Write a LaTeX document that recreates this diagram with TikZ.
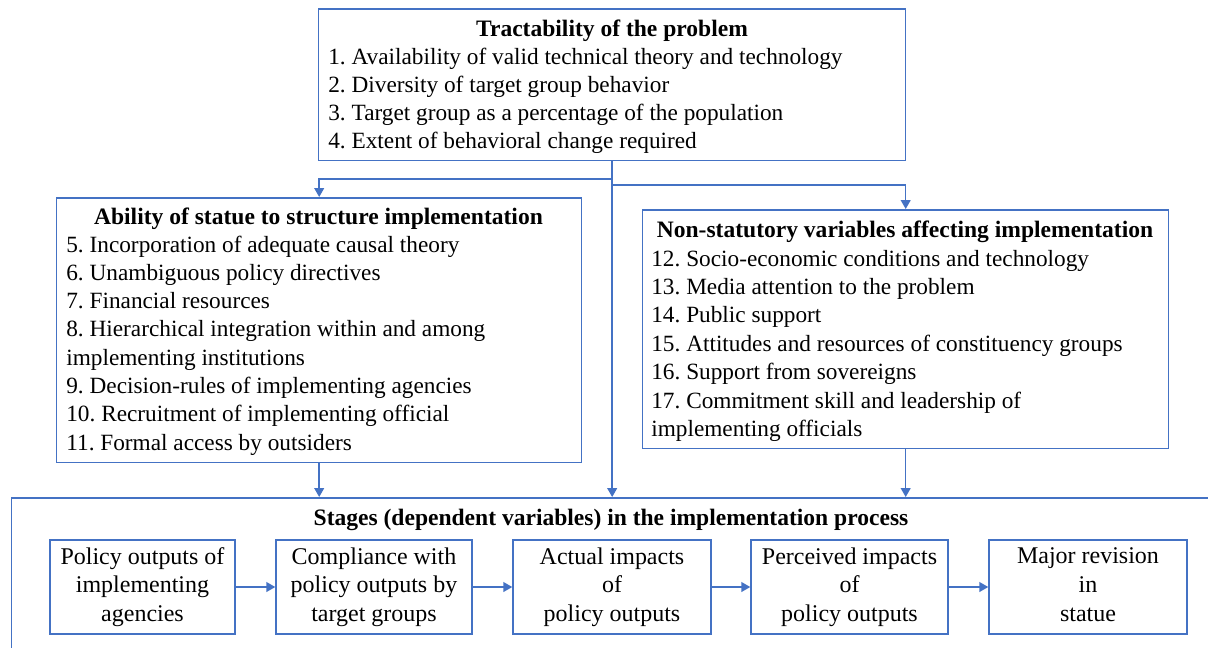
\documentclass[tikz,border=0pt]{standalone}
\usepackage{fontspec}
\setmainfont{Liberation Serif}
\usetikzlibrary{positioning, arrows.meta}
\definecolor{linkblue}{RGB}{68,114,196}
\frenchspacing

\begin{document}
\begin{tikzpicture}[x=0.02cm, y=-0.02cm,
    box/.style={draw=linkblue, line width=0.85pt, inner sep=0pt, anchor=north west},
    head/.style={font=\fontsize{13.4}{16}\selectfont\bfseries, anchor=base, inner sep=0pt},
    item/.style={font=\fontsize{13.25}{16}\selectfont, anchor=base west, inner sep=0pt},
    stage/.style={draw=linkblue, line width=0.85pt, align=center, inner sep=0pt,
        font=\fontsize{13.65}{16.3}\selectfont, minimum height=1.88cm},
    link/.style={draw=linkblue, line width=0.85pt, -{Triangle[length=5pt, width=5.5pt]}}]
    \useasboundingbox (0,0) rectangle (1208,647);
    \clip (0,0) rectangle (1208,647);

    % Tractability box
    \node[box, minimum width=11.74cm, minimum height=3.04cm] (tract) at (318,8) {};
    \node[head] (tracthead) at (612,36) {Tractability of the problem};
    \foreach \txt [count=\i] in {
        {1. Availability of valid technical theory and technology},
        {2. Diversity of target group behavior},
        {3. Target group as a percentage of the population},
        {4. Extent of behavioral change required}}
        \node[item] (tr\i) at (328, {36+28*\i}) {\txt};

    % Statute box
    \node[box, minimum width=10.5cm, minimum height=5.3cm] (statute) at (56,197) {};
    \node[head] (statutehead) at (318.5,224) {Ability of statue to structure implementation};
    \foreach \txt [count=\i] in {
        {5. Incorporation of adequate causal theory},
        {6. Unambiguous policy directives},
        {7. Financial resources},
        {8. Hierarchical integration within and among},
        {implementing institutions},
        {9. Decision-rules of implementing agencies},
        {10. Recruitment of implementing official},
        {11. Formal access by outsiders}}
        \node[item] (st\i) at (66, {223.7+28.3*\i}) {\txt};

    % Non-statutory box
    \node[box, minimum width=10.52cm, minimum height=4.78cm] (nonstat) at (642,209) {};
    \node[head] (nonstathead) at (905,237) {Non-statutory variables affecting implementation};
    \foreach \txt [count=\i] in {
        {12. Socio-economic conditions and technology},
        {13. Media attention to the problem},
        {14. Public support},
        {15. Attitudes and resources of constituency groups},
        {16. Support from sovereigns},
        {17. Commitment skill and leadership of},
        {implementing officials}}
        \node[item] (ns\i) at (651, {237.6+28.4*\i}) {\txt};

    % Stages box
    \node[box, minimum width=24.2cm, minimum height=3.4cm] (stages) at (11,497) {};
    \node[head] (stageshead) at (611,525) {Stages (dependent variables) in the implementation process};

    \node[stage, minimum width=3.7cm] (s1) at (142.5,587) {Policy outputs of\\implementing\\agencies};
    \node[stage, minimum width=3.92cm] (s2) at (374,587) {Compliance with\\policy outputs by\\target groups};
    \node[stage, minimum width=3.96cm] (s3) at (612,587) {Actual impacts\\of\\policy outputs};
    \node[stage, minimum width=3.94cm] (s4) at (849.5,587) {Perceived impacts\\of\\policy outputs};
    \node[stage, minimum width=3.96cm] (s5) at (1088,587) {Major revision\\in\\statue\vphantom{p}};

    % Connectors
    \coordinate (splitl) at (611.5,179);
    \coordinate (splitr) at (611.5,185);
    \draw[link] (tract.south) -- (tract.south |- stages.north);
    \draw[link] (splitl) -| (statute.north);
    \draw[link] (splitr) -| (nonstat.north);
    \draw[link] (statute.south) -- (statute.south |- stages.north);
    \draw[link] (nonstat.south) -- (nonstat.south |- stages.north);
    \foreach \a/\b in {s1/s2, s2/s3, s3/s4, s4/s5}
        \draw[link] (\a) -- (\b);
\end{tikzpicture}
\end{document}
